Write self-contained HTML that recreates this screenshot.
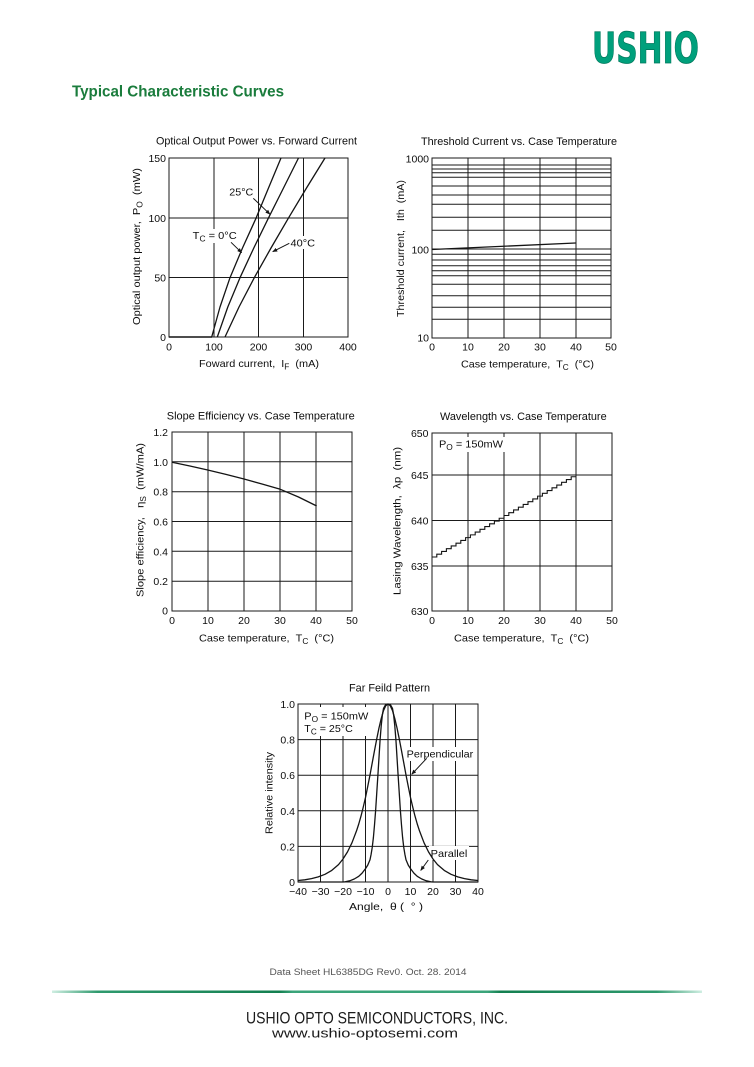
<!DOCTYPE html>
<html><head><meta charset="utf-8"><style>
html,body{margin:0;padding:0;background:#fff;}
svg{display:block;}
text{font-family:"Liberation Sans",Arial,sans-serif;fill:#0d0d0d;}
</style></head><body>
<svg width="754" height="1067" viewBox="0 0 754 1067" xmlns="http://www.w3.org/2000/svg">
<defs>
<marker id="ah" viewBox="0 0 10 10" refX="9" refY="5" markerWidth="5" markerHeight="5" orient="auto" markerUnits="userSpaceOnUse">
<path d="M0,1 L10,5 L0,9 z" fill="#141414"/>
</marker>
<linearGradient id="fl" x1="0" x2="1" y1="0" y2="0">
<stop offset="0" stop-color="#cfeee2"/>
<stop offset="0.07" stop-color="#2f9a6e"/>
<stop offset="0.35" stop-color="#137f50"/>
<stop offset="0.37" stop-color="#3aa47a"/>
<stop offset="0.67" stop-color="#3aa47a"/>
<stop offset="0.69" stop-color="#137f50"/>
<stop offset="0.93" stop-color="#2f9a6e"/>
<stop offset="1" stop-color="#cfeee2"/>
</linearGradient>
</defs>
<rect width="754" height="1067" fill="#fff"/>

<!-- Logo -->
<text x="592" y="63" font-weight="bold" font-size="43" textLength="107" lengthAdjust="spacingAndGlyphs" style="fill:#00a07c;stroke:#00785c;stroke-width:0.8;font-family:'DejaVu Sans',sans-serif">USHIO</text>

<!-- Title -->
<text x="72" y="96.5" font-size="16" font-weight="bold" textLength="212" lengthAdjust="spacingAndGlyphs" style="fill:#1a7c3c">Typical Characteristic Curves</text>

<g stroke="#1a1a1a" fill="none" stroke-width="1">
<rect x="169" y="158" width="179" height="179"/>
<path d="M214,158V337M258.5,158V337M303.5,158V337M169,218H348M169,277.5H348"/>
<rect x="432" y="158" width="179" height="180"/>
<path d="M468,158V338M504,158V338M540,158V338M576,158V338"/>
<path d="M432,165H611M432,169H611M432,172.7H611M432,177.3H611M432,186H611M432,195H611M432,204.3H611M432,217.3H611M432,230.3H611M432,249H611M432,254.3H611M432,260H611M432,265.7H611M432,270.7H611M432,275.7H611M432,284.3H611M432,295.7H611M432,307.3H611M432,319.3H611"/>
<rect x="172" y="432" width="180" height="179"/>
<path d="M208,432V611M244,432V611M280,432V611M316,432V611M172,461.8H352M172,491.7H352M172,521.5H352M172,551.3H352M172,581.2H352"/>
<rect x="432" y="433" width="180" height="178"/>
<path d="M468,433V611M504,433V611M540,433V611M576,433V611M432,475H612M432,520.5H612M432,566H612"/>
<rect x="298" y="704" width="180" height="178"/>
<path d="M320.5,704V882M343,704V882M365.5,704V882M388,704V882M410.5,704V882M433,704V882M455.5,704V882M298,739.6H478M298,775.2H478M298,810.8H478M298,846.4H478"/>
</g>

<g fill="#fff">
<rect x="191" y="229" width="48" height="14"/>
<rect x="289" y="236" width="28" height="13"/>
<rect x="437" y="437" width="69" height="15"/>
<rect x="302" y="707" width="69" height="29"/>
<rect x="405" y="747" width="70" height="14"/>
<rect x="429" y="846" width="40" height="14"/>
</g>

<g stroke="#141414" fill="none" stroke-width="1.3" stroke-linejoin="round">
<path d="M169,337H212" stroke-width="1.6"/>
<polyline points="211.7,337 220,307 230,277.7 242.5,248 256,218.3 268.5,188 281,158"/>
<polyline points="217.3,337 227.8,307 240,277.7 253.8,248 268.3,218.3 283.5,188 298.5,158"/>
<polyline points="225,337 239,307 254.3,277.7 271,248 288.3,218.3 306.5,188 325,158"/>
</g>
<g stroke="#141414" stroke-width="1" fill="none">
<line x1="253.3" y1="198.3" x2="270" y2="214.3" marker-end="url(#ah)"/>
<line x1="231" y1="242.3" x2="241.7" y2="252.7" marker-end="url(#ah)"/>
<line x1="289.3" y1="243.3" x2="272.7" y2="251.7" marker-end="url(#ah)"/>
</g>

<path d="M432,249.5L575.5,243" stroke="#141414" stroke-width="1.3" fill="none"/>

<polyline points="172,462.3 189.9,466 207.7,470 225.9,474.4 244,479 262,484 280.3,489.3 298.5,497 316.7,506" stroke="#141414" stroke-width="1.3" fill="none" stroke-linejoin="round"/>

<path d="M432,557 h4.8v-2.767h4.8v-2.767h4.8v-2.767h4.8v-2.767h4.8v-2.767h4.8v-2.767h4.8v-2.767h4.8v-2.767h4.8v-2.767h4.8v-2.767h4.8v-2.767h4.8v-2.767h4.8v-2.767h4.8v-2.767h4.8v-2.767h4.8v-2.767h4.8v-2.767h4.8v-2.767h4.8v-2.767h4.8v-2.767h4.8v-2.767h4.8v-2.767h4.8v-2.767h4.8v-2.767h4.8v-2.767h4.8v-2.767h4.8v-2.767h4.8v-2.767h4.8v-2.767h4.8" stroke="#141414" stroke-width="1.1" fill="none"/>

<g stroke="#141414" fill="none" stroke-width="1.3" stroke-linejoin="round">
<polyline points="298,880.5 304.75,879.8 311.5,878.6 318.25,876.9 325,874.3 331.75,870.4 338.5,864.6 343,859 347.5,851.9 352,842.7 356.5,830.9 358.75,824 361,816.1 363.25,807.1 365.5,797.5 367.75,786.4 370,775 372.25,762.7 374.5,750.6 376.75,738.9 379,727.9 381.25,718.4 383.5,710.6 385.75,705.7 388,704 390.25,705.7 392.5,710.6 394.75,718.4 397,727.9 399.25,738.9 401.5,750.6 403.75,762.7 406,775 408.25,786.4 410.5,797.5 412.75,807.1 415,816.1 417.25,824 419.5,830.9 424,842.7 428.5,851.9 433,859 437.5,864.6 444.25,870.4 451,874.3 457.75,876.9 464.5,878.6 471.25,879.8 478,880.5"/>
<polyline points="298,882 343,882 345.25,881.8 349.75,880.8 354.25,879 358.75,876.3 362.1,873.1 365.5,868.65 367.75,865.1 370,859.75 371.1,854.4 372.25,847.3 373.4,837.5 374.5,825 375.6,810.8 376.75,793 377.9,775.2 379,757.4 380.1,739.6 381.25,725.4 382.4,714.7 383.5,708.5 385.75,704.4 388,704 390.25,704.4 392.5,708.5 393.6,714.7 394.75,725.4 395.9,739.6 397,757.4 398.1,775.2 399.25,793 400.4,810.8 401.5,825 402.6,837.5 403.75,847.3 404.9,854.4 406,859.75 408.25,865.1 410.5,868.65 413.9,873.1 417.25,876.3 421.75,879 426.25,880.8 430.75,881.8 433,882 478,882"/>
</g>
<g stroke="#141414" stroke-width="1" fill="none">
<line x1="426.7" y1="758.3" x2="411.7" y2="774.3" marker-end="url(#ah)"/>
<line x1="428.3" y1="860" x2="420.7" y2="870.5" marker-end="url(#ah)"/>
</g>

<!-- Chart 1 text -->
<text x="256.5" y="144.5" font-size="11" text-anchor="middle" textLength="201" lengthAdjust="spacingAndGlyphs">Optical Output Power vs. Forward Current</text>
<g font-size="10.5" text-anchor="end">
<text x="166" y="162">150</text>
<text x="166" y="222">100</text>
<text x="166" y="281.5">50</text>
<text x="166" y="341">0</text>
</g>
<g font-size="10.5" text-anchor="middle">
<text x="169" y="350.5">0</text>
<text x="214" y="350.5">100</text>
<text x="258.5" y="350.5">200</text>
<text x="303.5" y="350.5">300</text>
<text x="348" y="350.5">400</text>
</g>
<text x="259" y="367" font-size="10.5" text-anchor="middle" textLength="120" lengthAdjust="spacingAndGlyphs">Foward current,&#160;&#160;I<tspan font-size="8" dy="2.5">F</tspan><tspan dy="-2.5">&#160;&#160;(mA)</tspan></text>
<text transform="translate(140,246.5) rotate(-90)" font-size="10.5" text-anchor="middle" textLength="157" lengthAdjust="spacingAndGlyphs">Optical output power,&#160;&#160;P<tspan font-size="8" dy="2.5">O</tspan><tspan dy="-2.5">&#160;&#160;(mW)</tspan></text>
<text x="229.3" y="195.5" font-size="10.5" textLength="24" lengthAdjust="spacingAndGlyphs">25°C</text>
<text x="192.7" y="239" font-size="10.5" textLength="44" lengthAdjust="spacingAndGlyphs">T<tspan font-size="8" dy="2.5">C</tspan><tspan dy="-2.5"> = 0°C</tspan></text>
<text x="290.5" y="246.5" font-size="10.5" textLength="24.5" lengthAdjust="spacingAndGlyphs">40°C</text>

<!-- Chart 2 text -->
<text x="519" y="145" font-size="11" text-anchor="middle" textLength="196" lengthAdjust="spacingAndGlyphs">Threshold Current vs. Case Temperature</text>
<g font-size="10.5" text-anchor="end">
<text x="429" y="162.5">1000</text>
<text x="429" y="253.5">100</text>
<text x="429" y="341.5">10</text>
</g>
<g font-size="10.5" text-anchor="middle">
<text x="432" y="350.5">0</text>
<text x="468" y="350.5">10</text>
<text x="504" y="350.5">20</text>
<text x="540" y="350.5">30</text>
<text x="576" y="350.5">40</text>
<text x="611" y="350.5">50</text>
</g>
<text x="527.5" y="367.5" font-size="10.5" text-anchor="middle" textLength="133" lengthAdjust="spacingAndGlyphs">Case temperature,&#160;&#160;T<tspan font-size="8" dy="2.5">C</tspan><tspan dy="-2.5">&#160;&#160;(°C)</tspan></text>
<text transform="translate(404,248.5) rotate(-90)" font-size="10.5" text-anchor="middle" textLength="137" lengthAdjust="spacingAndGlyphs">Threshold current,&#160;&#160;&#160;Ith&#160;&#160;(mA)</text>

<!-- Chart 3 text -->
<text x="260.8" y="419.5" font-size="11" text-anchor="middle" textLength="188" lengthAdjust="spacingAndGlyphs">Slope Efficiency vs. Case Temperature</text>
<g font-size="10.5" text-anchor="end">
<text x="168" y="436">1.2</text>
<text x="168" y="465.8">1.0</text>
<text x="168" y="495.7">0.8</text>
<text x="168" y="525.5">0.6</text>
<text x="168" y="555.3">0.4</text>
<text x="168" y="585.2">0.2</text>
<text x="168" y="614.5">0</text>
</g>
<g font-size="10.5" text-anchor="middle">
<text x="172" y="624">0</text>
<text x="208" y="624">10</text>
<text x="244" y="624">20</text>
<text x="280" y="624">30</text>
<text x="316" y="624">40</text>
<text x="352" y="624">50</text>
</g>
<text x="266.5" y="641.7" font-size="10.5" text-anchor="middle" textLength="135" lengthAdjust="spacingAndGlyphs">Case temperature,&#160;&#160;T<tspan font-size="8" dy="2.5">C</tspan><tspan dy="-2.5">&#160;&#160;(°C)</tspan></text>
<text transform="translate(143.5,520) rotate(-90)" font-size="10.5" text-anchor="middle" textLength="154" lengthAdjust="spacingAndGlyphs">Slope efficiency,&#160;&#160;&#160;η<tspan font-size="8" dy="2.5">S</tspan><tspan dy="-2.5">&#160;&#160;(mW/mA)</tspan></text>

<!-- Chart 4 text -->
<text x="523.3" y="420" font-size="11" text-anchor="middle" textLength="166.7" lengthAdjust="spacingAndGlyphs">Wavelength vs. Case Temperature</text>
<g font-size="10.5" text-anchor="end">
<text x="428.5" y="437">650</text>
<text x="428.5" y="479">645</text>
<text x="428.5" y="524.5">640</text>
<text x="428.5" y="570">635</text>
<text x="428.5" y="615">630</text>
</g>
<g font-size="10.5" text-anchor="middle">
<text x="432" y="624">0</text>
<text x="468" y="624">10</text>
<text x="504" y="624">20</text>
<text x="540" y="624">30</text>
<text x="576" y="624">40</text>
<text x="612" y="624">50</text>
</g>
<text x="521.5" y="641.7" font-size="10.5" text-anchor="middle" textLength="135" lengthAdjust="spacingAndGlyphs">Case temperature,&#160;&#160;T<tspan font-size="8" dy="2.5">C</tspan><tspan dy="-2.5">&#160;&#160;(°C)</tspan></text>
<text transform="translate(400.5,521) rotate(-90)" font-size="10.5" text-anchor="middle" textLength="148" lengthAdjust="spacingAndGlyphs">Lasing Wavelength,&#160;&#160;λp&#160;&#160;(nm)</text>
<text x="439" y="447.5" font-size="10.5" textLength="64" lengthAdjust="spacingAndGlyphs">P<tspan font-size="8" dy="2.5">O</tspan><tspan dy="-2.5"> = 150mW</tspan></text>

<!-- Chart 5 text -->
<text x="389.5" y="691.5" font-size="11" text-anchor="middle" textLength="81" lengthAdjust="spacingAndGlyphs">Far Feild Pattern</text>
<g font-size="10.5" text-anchor="end">
<text x="295" y="708">1.0</text>
<text x="295" y="743.6">0.8</text>
<text x="295" y="779.2">0.6</text>
<text x="295" y="814.8">0.4</text>
<text x="295" y="850.4">0.2</text>
<text x="295" y="886">0</text>
</g>
<g font-size="10.5" text-anchor="middle">
<text x="298" y="895">−40</text>
<text x="320.5" y="895">−30</text>
<text x="343" y="895">−20</text>
<text x="365.5" y="895">−10</text>
<text x="388" y="895">0</text>
<text x="410.5" y="895">10</text>
<text x="433" y="895">20</text>
<text x="455.5" y="895">30</text>
<text x="478" y="895">40</text>
</g>
<text x="386" y="910" font-size="10.5" text-anchor="middle" textLength="74" lengthAdjust="spacingAndGlyphs">Angle,&#160;&#160;θ ( &#160;° )</text>
<text transform="translate(272.5,793) rotate(-90)" font-size="10.5" text-anchor="middle" textLength="82" lengthAdjust="spacingAndGlyphs">Relative intensity</text>
<text x="304.3" y="719.5" font-size="10.5" textLength="64" lengthAdjust="spacingAndGlyphs">P<tspan font-size="8" dy="2.5">O</tspan><tspan dy="-2.5"> = 150mW</tspan></text>
<text x="304.3" y="732" font-size="10.5" textLength="48.5" lengthAdjust="spacingAndGlyphs">T<tspan font-size="8" dy="2.5">C</tspan><tspan dy="-2.5"> = 25°C</tspan></text>
<text x="406.7" y="757.5" font-size="10.5" textLength="66.6" lengthAdjust="spacingAndGlyphs">Perpendicular</text>
<text x="430.7" y="857" font-size="10.5" textLength="36.6" lengthAdjust="spacingAndGlyphs">Parallel</text>

<!-- Footer -->
<text x="368" y="975" font-size="9" text-anchor="middle" textLength="197" lengthAdjust="spacingAndGlyphs" style="fill:#555">Data Sheet HL6385DG Rev0. Oct. 28. 2014</text>
<rect x="52" y="990.5" width="650" height="2.5" fill="url(#fl)"/>
<text x="246" y="1023.5" font-size="17" textLength="262" lengthAdjust="spacingAndGlyphs" style="fill:#1a1a1a">USHIO OPTO SEMICONDUCTORS, INC.</text>
<text x="272" y="1037.5" font-size="13" textLength="186" lengthAdjust="spacingAndGlyphs" style="fill:#1a1a1a">www.ushio-optosemi.com</text>
</svg>
</body></html>
